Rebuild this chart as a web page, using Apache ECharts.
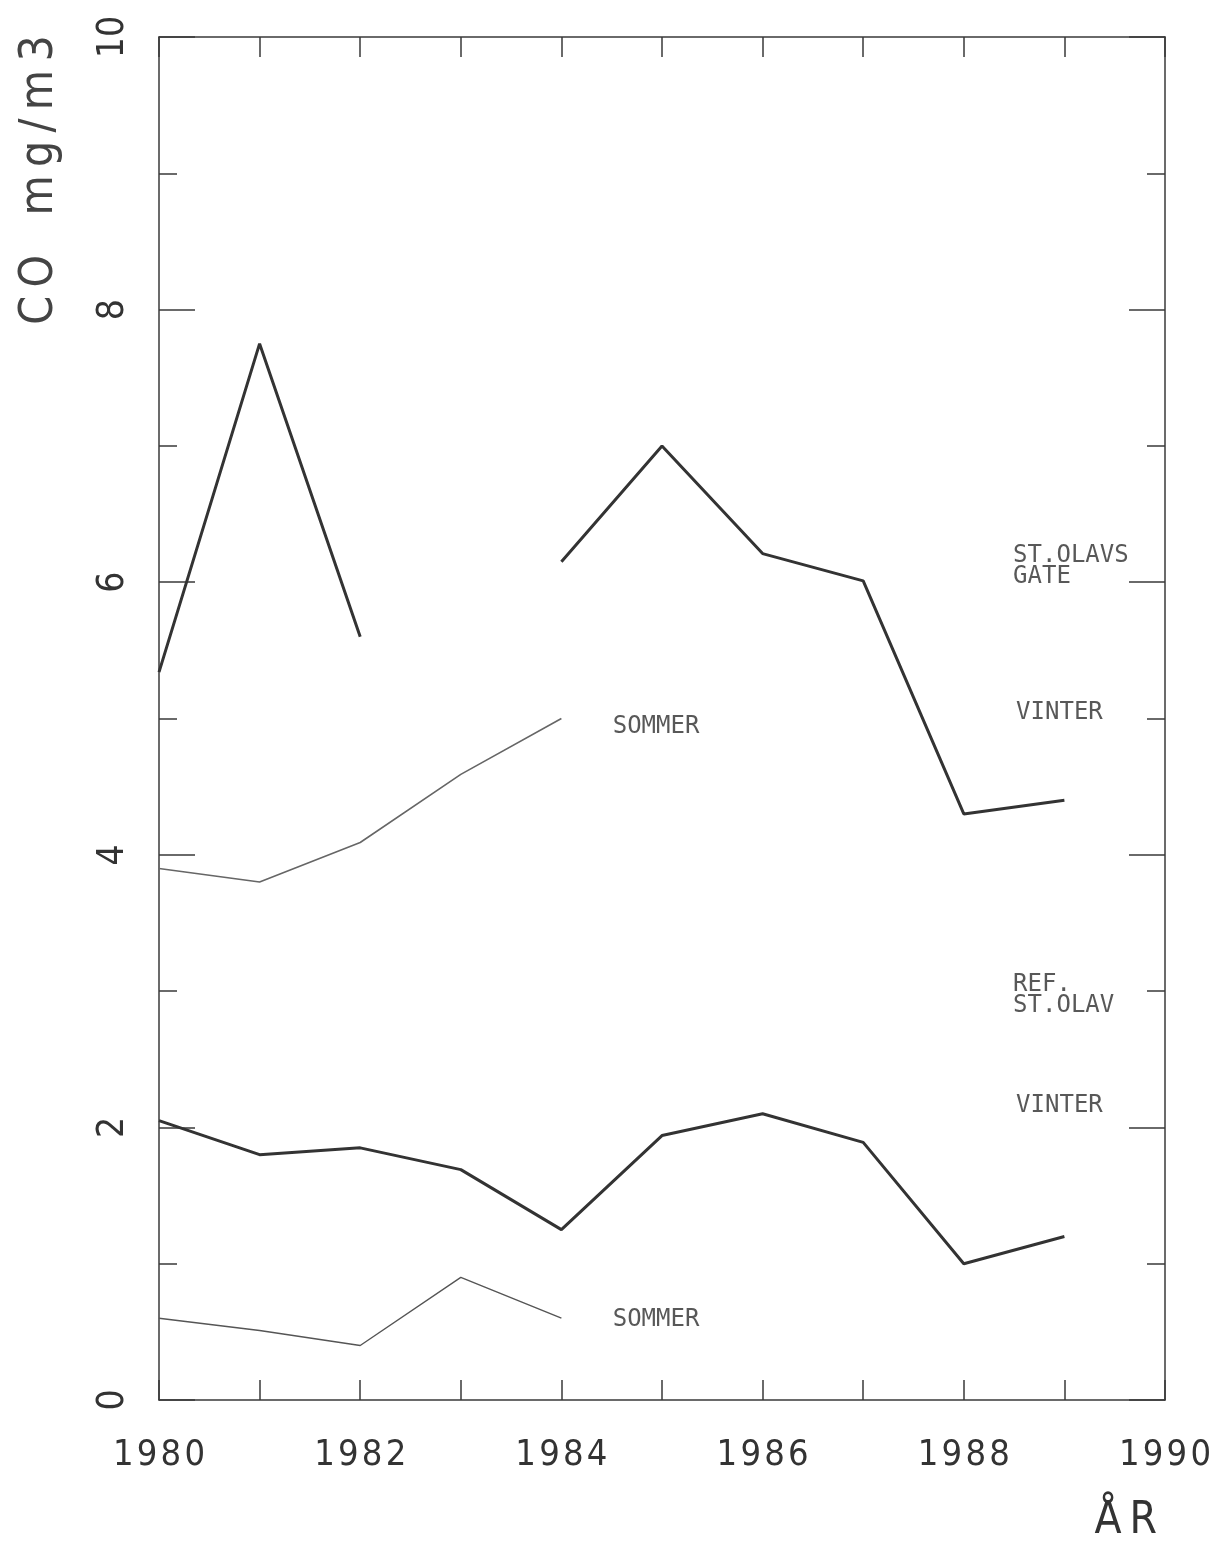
<!DOCTYPE html>
<html>
<head>
<meta charset="utf-8">
<style>
  html, body { margin: 0; padding: 0; background: #fff; }
  #chart { width: 1219px; height: 1544px; }
</style>
<script src="https://cdn.jsdelivr.net/npm/echarts@6/dist/echarts.min.js"></script>
</head>
<body>
<div id="chart"></div>
<script>
// Yearly CO concentrations (mg/m3), St. Olavs gate and reference station
const years = [1980, 1981, 1982, 1983, 1984, 1985, 1986, 1987, 1988, 1989];
const stOlavsVinter = [5.34, 7.75, 5.60, null, 6.15, 7.00, 6.21, 6.01, 4.30, 4.40];
const stOlavsSommer = [3.90, 3.80, 4.09, 4.59, 5.00];
const refVinter = [2.05, 1.80, 1.85, 1.69, 1.25, 1.94, 2.10, 1.89, 1.00, 1.20];
const refSommer = [0.60, 0.51, 0.40, 0.90, 0.60];

// Series captions: [year, value, text]
const notes = [
  [1988.49, 6.12, 'ST.OLAVS\nGATE'],
  [1988.52, 5.04, 'VINTER'],
  [1984.51, 4.94, 'SOMMER'],
  [1988.49, 2.97, 'REF.\nST.OLAV'],
  [1988.52, 2.16, 'VINTER'],
  [1984.51, 0.59, 'SOMMER']
];

const pairs = (vals) => vals.map((v, i) => [years[i], v]);

const ink = '#3a3a3a';
const plotFont = '"DejaVu Sans Condensed", "DejaVu Sans", sans-serif';
// plotter-style lettering: characters separated by a narrow space
const spaced = (s, sep) => String(s).split('').join(sep);

const chart = echarts.init(document.getElementById('chart'));

const baseX = {
  type: 'value', min: 1980, max: 1990, interval: 1,
  axisLine: { onZero: false, lineStyle: { color: ink, width: 1.5 } },
  axisTick: { inside: true, length: 20, lineStyle: { color: ink, width: 1.5 } },
  splitLine: { show: false }
};
const baseY = {
  type: 'value', min: 0, max: 10, interval: 2,
  axisLine: { show: true, onZero: false, lineStyle: { color: ink, width: 1.5 } },
  axisTick: { show: true, inside: true, length: 36, lineStyle: { color: ink, width: 1.5 } },
  minorTick: { show: true, splitNumber: 2, length: 18, lineStyle: { color: ink, width: 1.5 } },
  splitLine: { show: false }
};

chart.setOption({
  backgroundColor: '#ffffff',
  animation: false,
  grid: { left: 159, right: 54, top: 37, bottom: 144, outerBoundsMode: 'none', containLabel: false },
  xAxis: [
    Object.assign({}, baseX, {
      position: 'bottom',
      axisLabel: {
        margin: 38, fontSize: 36, fontWeight: 200, color: '#333', fontFamily: plotFont,
        formatter: (v) => (v % 2 === 0 ? spaced(v, '\u200A') : '')
      },
      name: 'Å\u2009R', nameLocation: 'end', nameGap: 0,
      nameTextStyle: {
        fontSize: 44, fontWeight: 200, color: '#333', fontFamily: plotFont,
        align: 'right', verticalAlign: 'top', padding: [100, 8, 0, 0]
      }
    }),
    Object.assign({}, baseX, { position: 'top', axisLabel: { show: false } })
  ],
  yAxis: [
    Object.assign({}, baseY, {
      position: 'left',
      axisLabel: {
        rotate: 90, margin: 27, fontSize: 37, fontWeight: 200, color: '#333', fontFamily: plotFont
      }
    }),
    Object.assign({}, baseY, { position: 'right', axisLabel: { show: false } })
  ],
  graphic: [{
    type: 'text', x: 40, y: 180, rotation: Math.PI / 2,
    style: {
      text: spaced('CO', '\u2009') + '   ' + spaced('mg/m3', '\u2009'),
      fontSize: 46, fontWeight: 200, fill: '#444', fontFamily: plotFont,
      align: 'center', verticalAlign: 'middle'
    }
  }],
  series: [
    {
      name: 'ST.OLAVS GATE VINTER', type: 'line', data: pairs(stOlavsVinter),
      connectNulls: false, showSymbol: false, symbol: 'none',
      lineStyle: { color: '#333', width: 3 }
    },
    {
      name: 'ST.OLAVS GATE SOMMER', type: 'line', data: pairs(stOlavsSommer),
      showSymbol: false, symbol: 'none',
      lineStyle: { color: '#666', width: 1.6 }
    },
    {
      name: 'REF. ST.OLAV VINTER', type: 'line', data: pairs(refVinter),
      showSymbol: false, symbol: 'none',
      lineStyle: { color: '#333', width: 3 }
    },
    {
      name: 'REF. ST.OLAV SOMMER', type: 'line', data: pairs(refSommer),
      showSymbol: false, symbol: 'none',
      lineStyle: { color: '#555', width: 1.4 }
    },
    {
      name: 'captions', type: 'scatter', symbolSize: 0, silent: true,
      data: notes.map((n) => ({ value: [n[0], n[1]], caption: n[2] })),
      label: {
        show: true, position: 'right', distance: 0,
        fontFamily: '"DejaVu Sans Mono", monospace', fontSize: 24, lineHeight: 21,
        color: '#2e2e2e', align: 'left', verticalAlign: 'middle',
        formatter: (p) => p.data.caption
      }
    }
  ]
});
</script>
</body>
</html>
